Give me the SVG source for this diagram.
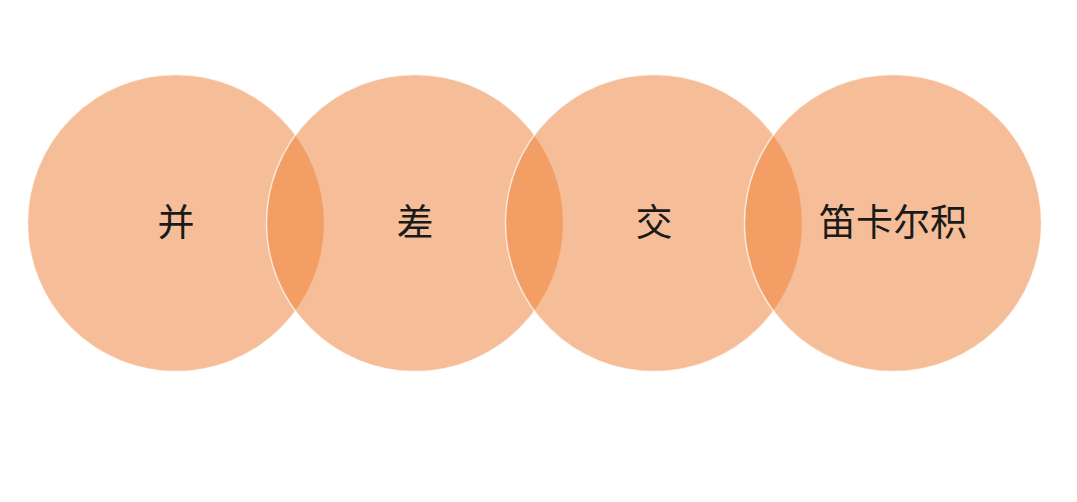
<svg xmlns="http://www.w3.org/2000/svg" width="1077" height="502" viewBox="0 0 1077 502">
<style>
.c{fill:#ED7D31;fill-opacity:0.5;stroke:#ffffff;stroke-opacity:0.7;stroke-width:1.5}
.t{font-family:"Noto Sans CJK SC","Noto Sans",sans-serif;font-size:37px;fill:#1a1a1a;text-anchor:middle}
</style>
<rect width="1077" height="502" fill="#ffffff"/>
<g id="node-union"><circle class="c" cx="176" cy="223" r="148.5"/><text class="t" x="176" y="236">并</text></g>
<g id="node-diff"><circle class="c" cx="415" cy="223" r="148.5"/><text class="t" x="415" y="236">差</text></g>
<g id="node-intersect"><circle class="c" cx="654" cy="223" r="148.5"/><text class="t" x="654" y="236">交</text></g>
<g id="node-product"><circle class="c" cx="893" cy="223" r="148.5"/><text class="t" x="893" y="236">笛卡尔积</text></g>
<g id="connectors"></g>
</svg>
